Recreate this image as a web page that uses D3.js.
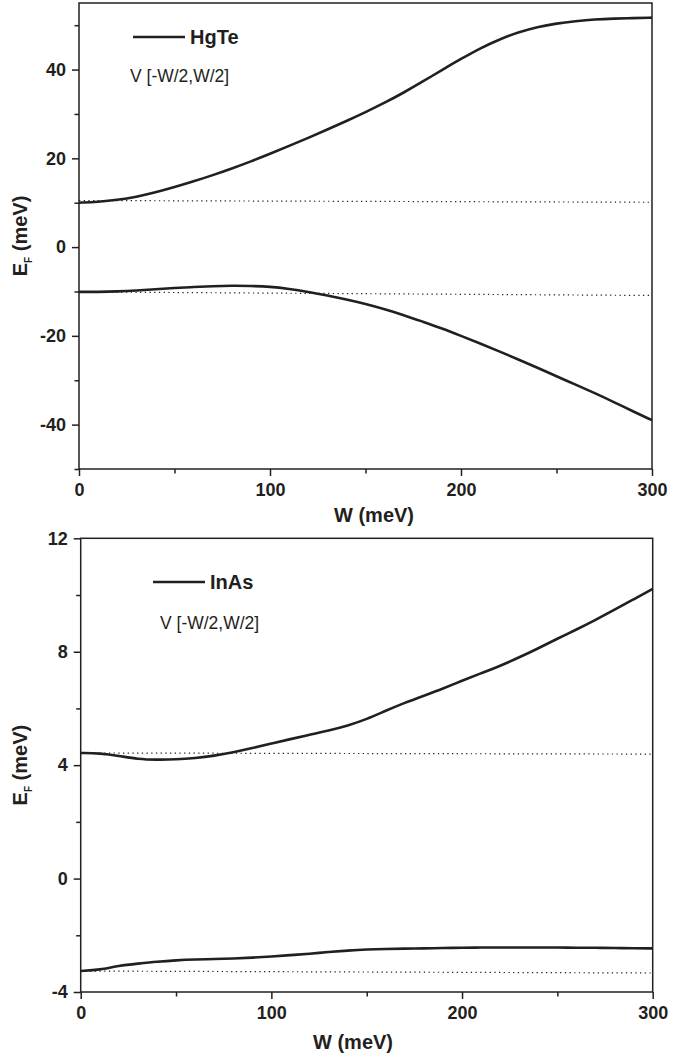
<!DOCTYPE html>
<html>
<head>
<meta charset="utf-8">
<script src="https://cdn.jsdelivr.net/npm/d3@7"></script>
<style>
  body { margin: 0; background: #fff; }
  svg { display: block; }
  text { font-family: "Liberation Sans", Arial, Helvetica, sans-serif; fill: #231f20; }
</style>
</head>
<body>
<div id="container"></div>
<script>
/* DATA */
// W values (meV) shared by all curves
const wValues = [0,10,20,30,40,50,60,70,80,90,100,110,120,130,140,150,160,170,180,190,200,210,220,230,240,250,260,270,280,290,300];

// HgTe panel
const hgteUpper = [10.0,10.2,10.6,11.3,12.3,13.5,14.8,16.2,17.7,19.3,21.0,22.8,24.6,26.5,28.4,30.4,32.5,34.8,37.3,39.9,42.4,44.8,46.8,48.4,49.6,50.4,50.9,51.3,51.5,51.6,51.7];
const hgteLower = [-10.1,-10.1,-10.0,-9.8,-9.5,-9.2,-9.0,-8.8,-8.7,-8.75,-8.9,-9.4,-10.1,-10.9,-11.8,-12.8,-14.0,-15.3,-16.8,-18.3,-20.0,-21.7,-23.5,-25.3,-27.2,-29.1,-31.0,-32.9,-34.9,-37.0,-39.0];
const hgteDotW = [0, 300];
const hgteDotUpper = [10.5, 10.1];
const hgteDotLower = [-10.1, -10.9];

// InAs panel
const inasUpper = [4.43,4.42,4.33,4.21,4.19,4.20,4.25,4.33,4.45,4.60,4.76,4.92,5.07,5.22,5.39,5.62,5.92,6.20,6.45,6.70,6.98,7.24,7.50,7.80,8.12,8.46,8.78,9.12,9.48,9.85,10.22];
const inasLower = [-3.26,-3.22,-3.07,-3.00,-2.93,-2.88,-2.85,-2.84,-2.82,-2.79,-2.75,-2.70,-2.65,-2.59,-2.54,-2.50,-2.48,-2.47,-2.46,-2.45,-2.44,-2.43,-2.43,-2.43,-2.43,-2.43,-2.44,-2.44,-2.45,-2.46,-2.46];
const inasDotW = [0, 300];
const inasDotUpper = [4.43, 4.39];
const inasDotLower = [-3.26, -3.33];

// ticks
const xMajor = [0, 100, 200, 300];
const xMinor = [50, 150, 250];
const hgteYMajor = [-40, -20, 0, 20, 40];
const hgteYMinor = [-50, -30, -10, 10, 30, 50];
const inasYMajor = [-4, 0, 4, 8, 12];
const inasYMinor = [-2, 2, 6, 10];

const materials = ["HgTe", "InAs"];
const potentialLabel = "V [-W/2,W/2]";
const xTitle = "W (meV)";

/* LAYOUT */
const width = 697, height = 1057;
const ink = "#231f20";

const svg = d3.select("#container").append("svg")
  .attr("width", width)
  .attr("height", height);

const panels = [
  {
    name: materials[0], left: 79, right: 652, top: 3, bottom: 469,
    yDomain: [-50, 55], yMajor: hgteYMajor, yMinor: hgteYMinor,
    curves: [hgteUpper, hgteLower], dotW: hgteDotW, dots: [hgteDotUpper, hgteDotLower],
    legend: {x: 133, y: 37}, note: {x: 130, y: 76}, xTitleX: 374, xTitleY: 522
  },
  {
    name: materials[1], left: 80.7, right: 652.7, top: 538.3, bottom: 992,
    yDomain: [-4, 12], yMajor: inasYMajor, yMinor: inasYMinor,
    curves: [inasUpper, inasLower], dotW: inasDotW, dots: [inasDotUpper, inasDotLower],
    legend: {x: 153, y: 582}, note: {x: 160, y: 623}, xTitleX: 353, xTitleY: 1049
  }
];

// plain hyphen for negatives, like the original figure
const fmt = d => String(d);

panels.forEach(p => {
  const xScale = d3.scaleLinear().domain([0, 300]).range([p.left, p.right]);
  const yScale = d3.scaleLinear().domain(p.yDomain).range([p.bottom, p.top]);

  const g = svg.append("g");

  // frame
  g.append("rect")
    .attr("x", p.left).attr("y", p.top)
    .attr("width", p.right - p.left).attr("height", p.bottom - p.top)
    .attr("fill", "none").attr("stroke", ink).attr("stroke-width", 1.5);

  // axes, major + minor ticks
  const xAxisMajor = d3.axisBottom(xScale).tickValues(xMajor).tickSize(7).tickPadding(7).tickFormat(fmt);
  const xAxisMinor = d3.axisBottom(xScale).tickValues(xMinor).tickSize(4.5).tickFormat("");
  const yAxisMajor = d3.axisLeft(yScale).tickValues(p.yMajor).tickSize(7).tickPadding(6).tickFormat(fmt);
  const yAxisMinor = d3.axisLeft(yScale).tickValues(p.yMinor).tickSize(4.5).tickFormat("");

  [xAxisMajor, xAxisMinor].forEach(ax => {
    g.append("g")
      .attr("transform", `translate(0,${p.bottom})`)
      .call(ax)
      .call(s => s.select(".domain").remove());
  });
  [yAxisMajor, yAxisMinor].forEach(ax => {
    g.append("g")
      .attr("transform", `translate(${p.left},0)`)
      .call(ax)
      .call(s => s.select(".domain").remove());
  });
  g.selectAll(".tick line").attr("stroke", ink).attr("stroke-width", 1.5);
  g.selectAll(".tick text")
    .attr("font-size", 18).attr("font-weight", "bold")
    .attr("font-family", "'Liberation Sans', Arial, sans-serif")
    .attr("fill", ink);

  // dotted reference lines
  const dotLine = d3.line().x((d, i) => xScale(p.dotW[i])).y(d => yScale(d));
  p.dots.forEach(arr => {
    g.append("path")
      .attr("d", dotLine(arr))
      .attr("fill", "none")
      .attr("stroke", ink)
      .attr("stroke-width", 1.2)
      .attr("stroke-dasharray", "1.3,3.4");
  });

  // curves
  const line = d3.line()
    .x((d, i) => xScale(wValues[i]))
    .y(d => yScale(d))
    .curve(d3.curveBasis);
  p.curves.forEach(arr => {
    g.append("path")
      .attr("d", line(arr))
      .attr("fill", "none")
      .attr("stroke", ink)
      .attr("stroke-width", 2.6)
      .attr("stroke-linejoin", "round");
  });

  // legend
  g.append("line")
    .attr("x1", p.legend.x).attr("x2", p.legend.x + 52)
    .attr("y1", p.legend.y).attr("y2", p.legend.y)
    .attr("stroke", ink).attr("stroke-width", 2.6);
  g.append("text")
    .attr("x", p.legend.x + 57).attr("y", p.legend.y)
    .attr("dy", "0.36em")
    .attr("font-size", 20).attr("font-weight", "bold")
    .text(p.name);
  g.append("text")
    .attr("x", p.note.x).attr("y", p.note.y)
    .attr("dy", "0.36em")
    .attr("font-size", 17.5)
    .text(potentialLabel);

  // axis titles
  g.append("text")
    .attr("x", p.xTitleX).attr("y", p.xTitleY)
    .attr("text-anchor", "middle")
    .attr("font-size", 20).attr("font-weight", "bold")
    .text(xTitle);

  const yt = g.append("text")
    .attr("transform", `translate(27,${(p.top + p.bottom) / 2}) rotate(-90)`)
    .attr("text-anchor", "middle")
    .attr("font-size", 20).attr("font-weight", "bold");
  yt.append("tspan").text("E");
  yt.append("tspan").attr("font-size", 10).attr("dy", 5).text("F");
  yt.append("tspan").attr("dy", -5).text(" (meV)");
});
</script>
</body>
</html>
